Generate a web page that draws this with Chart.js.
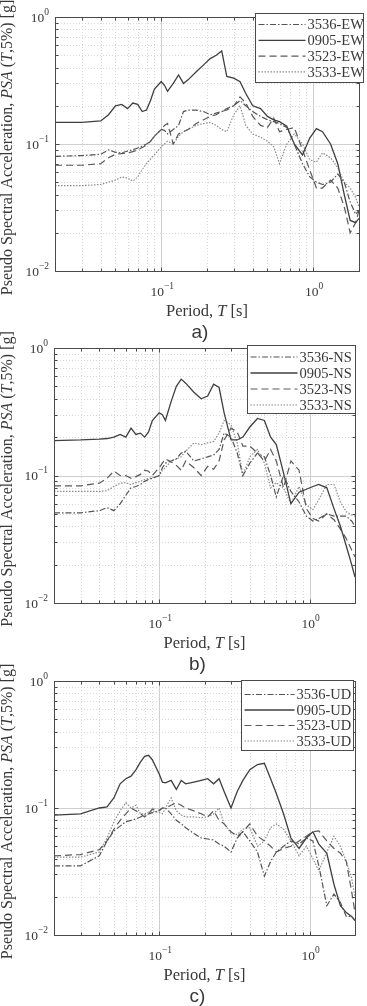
<!DOCTYPE html>
<html>
<head>
<meta charset="utf-8">
<title>Pseudo spectral acceleration</title>
<script src="https://cdn.jsdelivr.net/npm/chart.js@4.4.1/dist/chart.umd.min.js"></script>
<style>
  html, body { margin: 0; padding: 0; background: #fff; }
  body { width: 367px; height: 1006px; position: relative; overflow: hidden; }
  canvas { position: absolute; left: 0; }
</style>
</head>
<body>
<canvas id="chartA" width="367" height="345" style="top:0px"></canvas>
<canvas id="chartB" width="367" height="345" style="top:331px"></canvas>
<canvas id="chartC" width="367" height="344" style="top:662px"></canvas>
<script>
// periods [s] shared by every spectrum
const periods = [0.02, 0.03, 0.04, 0.045, 0.05, 0.055, 0.06, 0.065, 0.07, 0.075,
  0.08, 0.085, 0.09, 0.1, 0.105, 0.11, 0.12, 0.13, 0.14, 0.15,
  0.17, 0.19, 0.21, 0.23, 0.25, 0.27, 0.3, 0.33, 0.36, 0.4,
  0.45, 0.5, 0.55, 0.6, 0.67, 0.75, 0.85, 0.95, 1.05, 1.15,
  1.3, 1.45, 1.6, 1.75, 1.9, 2.0];

// a) EW
const ew3536 = [0.08, 0.081, 0.083, 0.09, 0.086, 0.085, 0.088, 0.09, 0.093, 0.096,
  0.1, 0.105, 0.115, 0.13, 0.128, 0.12, 0.13, 0.14, 0.18, 0.185,
  0.185, 0.18, 0.17, 0.175, 0.18, 0.19, 0.2, 0.22, 0.2, 0.18,
  0.165, 0.155, 0.15, 0.145, 0.135, 0.1, 0.07, 0.055, 0.05, 0.048,
  0.05, 0.058, 0.05, 0.035, 0.028, 0.03];
const ew0905 = [0.148, 0.148, 0.152, 0.17, 0.2, 0.205, 0.19, 0.21, 0.205, 0.18,
  0.185, 0.22, 0.27, 0.31, 0.29, 0.26, 0.3, 0.35, 0.3, 0.32,
  0.37, 0.42, 0.47, 0.5, 0.54, 0.34, 0.33, 0.31, 0.25, 0.2,
  0.19, 0.165, 0.155, 0.15, 0.138, 0.1, 0.082, 0.112, 0.132, 0.125,
  0.1, 0.07, 0.04, 0.025, 0.024, 0.026];
const ew3523 = [0.068, 0.068, 0.07, 0.078, 0.083, 0.084, 0.085, 0.087, 0.09, 0.094,
  0.098, 0.105, 0.115, 0.13, 0.14, 0.145, 0.1, 0.12, 0.125, 0.13,
  0.145, 0.155, 0.165, 0.17, 0.18, 0.185, 0.2, 0.235, 0.21, 0.165,
  0.14, 0.135, 0.16, 0.125, 0.13, 0.135, 0.09, 0.062, 0.045, 0.045,
  0.052, 0.045, 0.032, 0.02, 0.024, 0.03];
const ew3533 = [0.047, 0.047, 0.048, 0.05, 0.052, 0.055, 0.054, 0.051, 0.055, 0.063,
  0.07, 0.076, 0.082, 0.095, 0.1, 0.105, 0.1, 0.115, 0.125, 0.13,
  0.14, 0.145, 0.148, 0.14, 0.13, 0.125, 0.17, 0.2, 0.14, 0.12,
  0.113, 0.105, 0.095, 0.07, 0.1, 0.12, 0.1, 0.075, 0.072, 0.085,
  0.078, 0.065, 0.05, 0.045, 0.038, 0.032];

// b) NS
const ns3536 = [0.051, 0.051, 0.053, 0.056, 0.053, 0.06, 0.07, 0.08, 0.082, 0.085,
  0.09, 0.093, 0.095, 0.1, 0.115, 0.125, 0.13, 0.135, 0.15, 0.155,
  0.13, 0.135, 0.14, 0.145, 0.16, 0.215, 0.2, 0.15, 0.1, 0.125,
  0.15, 0.14, 0.1, 0.068, 0.1, 0.075, 0.062, 0.048, 0.044, 0.046,
  0.05, 0.048, 0.048, 0.048, 0.044, 0.04];
const ns0905 = [0.188, 0.19, 0.193, 0.195, 0.2, 0.21, 0.2, 0.235, 0.21, 0.215,
  0.2, 0.22, 0.27, 0.31, 0.3, 0.27, 0.38, 0.5, 0.57, 0.53,
  0.45, 0.4, 0.42, 0.52, 0.49, 0.31, 0.19, 0.19, 0.2, 0.24,
  0.28, 0.27, 0.2, 0.175, 0.105, 0.06, 0.074, 0.078, 0.082, 0.085,
  0.08, 0.055, 0.04, 0.028, 0.02, 0.016];
const ns3523 = [0.083, 0.083, 0.087, 0.095, 0.108, 0.1, 0.1, 0.095, 0.098, 0.102,
  0.11, 0.108, 0.1, 0.115, 0.125, 0.135, 0.128, 0.12, 0.11, 0.13,
  0.115, 0.1, 0.118, 0.112, 0.13, 0.19, 0.235, 0.22, 0.17, 0.17,
  0.15, 0.13, 0.16, 0.13, 0.08, 0.13, 0.11, 0.055, 0.046, 0.044,
  0.05, 0.045, 0.038, 0.032, 0.026, 0.023];
const ns3533 = [0.075, 0.075, 0.075, 0.076, 0.082, 0.087, 0.088, 0.085, 0.088, 0.09,
  0.093, 0.095, 0.096, 0.1, 0.11, 0.115, 0.13, 0.135, 0.14, 0.155,
  0.18, 0.175, 0.18, 0.185, 0.215, 0.27, 0.25, 0.18, 0.1, 0.14,
  0.16, 0.125, 0.08, 0.088, 0.08, 0.06, 0.082, 0.059, 0.054, 0.065,
  0.085, 0.085, 0.062, 0.052, 0.049, 0.048];

// c) UD
const ud3536 = [0.035, 0.035, 0.042, 0.055, 0.066, 0.072, 0.078, 0.08, 0.082, 0.085,
  0.088, 0.09, 0.092, 0.095, 0.1, 0.1, 0.09, 0.08, 0.075, 0.07,
  0.063, 0.058, 0.057, 0.056, 0.052, 0.05, 0.045, 0.058, 0.065, 0.055,
  0.045, 0.029, 0.038, 0.045, 0.05, 0.055, 0.052, 0.058, 0.055, 0.035,
  0.017, 0.021, 0.018, 0.014, 0.014, 0.013];
const ud0905 = [0.088, 0.09, 0.1, 0.102, 0.12, 0.155, 0.17, 0.178, 0.2, 0.23,
  0.255, 0.26, 0.24, 0.185, 0.16, 0.158, 0.165, 0.14, 0.165, 0.155,
  0.16, 0.165, 0.17, 0.155, 0.17, 0.135, 0.1, 0.135, 0.165, 0.2,
  0.22, 0.225, 0.17, 0.13, 0.09, 0.058, 0.048, 0.058, 0.065, 0.052,
  0.044, 0.025, 0.017, 0.015, 0.014, 0.013];
const ud3523 = [0.042, 0.043, 0.047, 0.055, 0.068, 0.08, 0.09, 0.1, 0.095, 0.09,
  0.085, 0.09, 0.098, 0.096, 0.1, 0.1, 0.105, 0.11, 0.105, 0.1,
  0.095, 0.09, 0.085, 0.095, 0.08, 0.075, 0.065, 0.06, 0.065, 0.075,
  0.06, 0.055, 0.05, 0.045, 0.048, 0.05, 0.055, 0.06, 0.065, 0.066,
  0.055, 0.048, 0.044, 0.038, 0.022, 0.015];
const ud3533 = [0.041, 0.041, 0.045, 0.058, 0.078, 0.095, 0.11, 0.1, 0.105, 0.09,
  0.09, 0.093, 0.095, 0.092, 0.09, 0.1, 0.12, 0.095, 0.088, 0.085,
  0.085, 0.084, 0.085, 0.09, 0.1, 0.075, 0.063, 0.062, 0.068, 0.07,
  0.05, 0.055, 0.07, 0.075, 0.068, 0.055, 0.042, 0.05, 0.04, 0.032,
  0.045, 0.06, 0.05, 0.038, 0.028, 0.02];

const stations = ['3536', '0905', '3523', '3533'];
const xGridValues = [0.02, 0.03, 0.04, 0.05, 0.06, 0.07, 0.08, 0.09, 0.1,
  0.2, 0.3, 0.4, 0.5, 0.6, 0.7, 0.8, 0.9, 1, 2];
const yGridValues = [0.01, 0.02, 0.03, 0.04, 0.05, 0.06, 0.07, 0.08, 0.09, 0.1,
  0.2, 0.3, 0.4, 0.5, 0.6, 0.7, 0.8, 0.9, 1];
const xLabelValues = [0.1, 1];
const yLabelValues = [0.01, 0.1, 1];

const lineDashes = [[6, 2, 1.5, 2], [], [7, 4], [1.5, 1.5]];
const lineColors = ['#555555', '#3f3f3f', '#5a5a5a', '#8c8c8c'];
const lineWidths = [1.2, 1.3, 1.2, 1.2];

const SERIF = '"Liberation Serif", "Times New Roman", serif';
const TEXT = '#383838';

function strokeLine(ctx, x1, y1, x2, y2) {
  ctx.beginPath();
  ctx.moveTo(x1, y1);
  ctx.lineTo(x2, y2);
  ctx.stroke();
}

// text runs of mixed upright / italic, centred on (cx, cy)
function drawRuns(ctx, runs, cx, cy, size) {
  let total = 0;
  runs.forEach(r => {
    ctx.font = (r[1] ? 'italic ' : '') + size + 'px ' + SERIF;
    total += ctx.measureText(r[0]).width;
  });
  let x = cx - total / 2;
  ctx.textAlign = 'left';
  ctx.textBaseline = 'middle';
  runs.forEach(r => {
    ctx.font = (r[1] ? 'italic ' : '') + size + 'px ' + SERIF;
    ctx.fillText(r[0], x, cy);
    x += ctx.measureText(r[0]).width;
  });
}

// power-of-ten label, align: 'center' or 'right'
function drawPower(ctx, value, x, y, align) {
  const exp = String(Math.round(Math.log10(value))).replace('-', '\u2212');
  ctx.font = '13.5px ' + SERIF;
  const wb = ctx.measureText('10').width;
  ctx.font = '9.5px ' + SERIF;
  const we = ctx.measureText(exp).width;
  const left = align === 'right' ? x - wb - we : x - (wb + we) / 2;
  ctx.textAlign = 'left';
  ctx.textBaseline = 'middle';
  ctx.font = '13.5px ' + SERIF;
  ctx.fillText('10', left, y);
  ctx.font = '9.5px ' + SERIF;
  ctx.fillText(exp, left + wb, y - 6);
}

const matlabAxes = {
  id: 'matlabAxes',
  beforeDatasetsDraw(chart) {
    const { ctx, chartArea: a, scales: { x, y } } = chart;
    ctx.save();
    ctx.lineWidth = 1;
    ctx.strokeStyle = '#d9d9d9';
    ctx.setLineDash([1, 2]);
    xGridValues.forEach(v => {
      if (xLabelValues.includes(v)) return;
      const px = Math.round(x.getPixelForValue(v)) + 0.5;
      strokeLine(ctx, px, a.top, px, a.bottom);
    });
    yGridValues.forEach(v => {
      if (yLabelValues.includes(v)) return;
      const py = Math.round(y.getPixelForValue(v)) + 0.5;
      strokeLine(ctx, a.left, py, a.right, py);
    });
    ctx.setLineDash([]);
    ctx.strokeStyle = '#cfcfcf';
    xLabelValues.forEach(v => {
      const px = Math.round(x.getPixelForValue(v)) + 0.5;
      strokeLine(ctx, px, a.top, px, a.bottom);
    });
    yLabelValues.forEach(v => {
      const py = Math.round(y.getPixelForValue(v)) + 0.5;
      strokeLine(ctx, a.left, py, a.right, py);
    });
    ctx.restore();
  },
  afterDatasetsDraw(chart, args, opts) {
    const { ctx, chartArea: a, scales: { x, y } } = chart;
    const L = Math.round(a.left) + 0.5, R = Math.round(a.right) + 0.5;
    const T = Math.round(a.top) + 0.5, B = Math.round(a.bottom) + 0.5;
    ctx.save();
    ctx.lineWidth = 1;
    ctx.strokeStyle = '#4a4a4a';
    // inward ticks on all four sides
    xGridValues.forEach(v => {
      const px = Math.round(x.getPixelForValue(v)) + 0.5;
      const len = xLabelValues.includes(v) ? 4 : 3;
      strokeLine(ctx, px, B, px, B - len);
      strokeLine(ctx, px, T, px, T + len);
    });
    yGridValues.forEach(v => {
      const py = Math.round(y.getPixelForValue(v)) + 0.5;
      const len = yLabelValues.includes(v) ? 4 : 3;
      strokeLine(ctx, L, py, L + len, py);
      strokeLine(ctx, R, py, R - len, py);
    });
    ctx.strokeRect(L, T, R - L, B - T);

    // tick labels
    ctx.fillStyle = TEXT;
    xLabelValues.forEach(v => drawPower(ctx, v, x.getPixelForValue(v) + 1, a.bottom + 21, 'center'));
    yLabelValues.forEach(v => drawPower(ctx, v, a.left - 6, y.getPixelForValue(v) + 1, 'right'));

    // axis titles and panel tag
    drawRuns(ctx, [['Period, ', false], ['T', true], [' [s]', false]],
      (a.left + a.right) / 2, a.bottom + 41, 16.5);
    ctx.save();
    ctx.translate(8, (a.top + a.bottom) / 2 + 3.5);
    ctx.rotate(-Math.PI / 2);
    drawRuns(ctx, [['Pseudo Spectral Acceleration, ', false], ['PSA', true], [' (', false],
      ['T', true], [',5%) [g]', false]], 0, 0, 16);
    ctx.restore();
    ctx.font = '19px "Liberation Sans", Arial, sans-serif';
    ctx.textAlign = 'center';
    ctx.textBaseline = 'middle';
    ctx.fillText(opts.tag, (a.left + a.right) / 2 - 7, a.bottom + 62);

    // legend box
    const lg = opts.legend;
    const bx = Math.round(a.right + lg.dx - lg.width) + 0.5;
    const by = Math.round(a.top + lg.dy) + 0.5;
    ctx.fillStyle = '#ffffff';
    ctx.fillRect(bx, by, lg.width, lg.height);
    ctx.strokeStyle = '#4a4a4a';
    ctx.strokeRect(bx, by, lg.width, lg.height);
    chart.data.datasets.forEach((ds, i) => {
      const ry = by + lg.row0 + i * lg.gap;
      ctx.strokeStyle = ds.borderColor;
      ctx.lineWidth = ds.borderWidth;
      ctx.setLineDash(ds.borderDash);
      strokeLine(ctx, bx + 3, ry, bx + lg.sample, ry);
      ctx.setLineDash([]);
      ctx.fillStyle = TEXT;
      ctx.font = '14.5px ' + SERIF;
      ctx.textAlign = 'left';
      ctx.textBaseline = 'middle';
      ctx.fillText(ds.label, bx + lg.sample + 2, ry + 1);
    });
    ctx.restore();
  }
};

function makeChart(id, series, suffix, panel) {
  return new Chart(document.getElementById(id), {
    type: 'line',
    data: {
      datasets: series.map((vals, i) => ({
        label: stations[i] + '-' + suffix,
        data: periods.map((t, k) => ({ x: t, y: vals[k] })),
        borderColor: lineColors[i],
        borderDash: lineDashes[i],
        borderWidth: lineWidths[i],
        pointRadius: 0,
        fill: false,
        tension: 0
      }))
    },
    options: {
      responsive: false,
      animation: false,
      devicePixelRatio: 1,
      layout: { padding: panel.padding },
      scales: {
        x: { type: 'logarithmic', min: 0.02, max: 2, display: false },
        y: { type: 'logarithmic', min: 0.01, max: 1, display: false }
      },
      plugins: {
        legend: { display: false },
        tooltip: { enabled: false },
        matlabAxes: panel
      }
    },
    plugins: [matlabAxes]
  });
}

makeChart('chartA', [ew3536, ew0905, ew3523, ew3533], 'EW', {
  tag: 'a)',
  padding: { left: 55, right: 8, top: 17, bottom: 74 },
  legend: { dx: 4, dy: -4, width: 108, height: 69, row0: 11, gap: 15.8, sample: 50 }
});
makeChart('chartB', [ns3536, ns0905, ns3523, ns3533], 'NS', {
  tag: 'b)',
  padding: { left: 54, right: 12, top: 17, bottom: 73 },
  legend: { dx: 0, dy: -3, width: 108, height: 68, row0: 11.5, gap: 16, sample: 50 }
});
makeChart('chartC', [ud3536, ud0905, ud3523, ud3533], 'UD', {
  tag: 'c)',
  padding: { left: 54, right: 12, top: 19, bottom: 71 },
  legend: { dx: -2, dy: -1, width: 112, height: 70, row0: 14, gap: 15.5, sample: 53 }
});
</script>
</body>
</html>
